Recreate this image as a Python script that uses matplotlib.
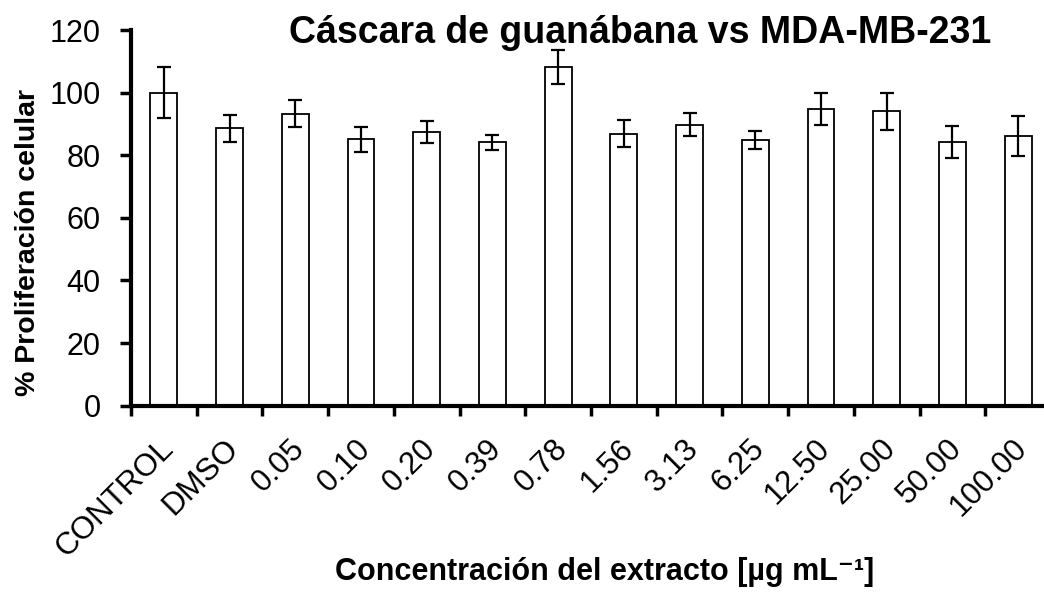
import matplotlib.pyplot as plt
import numpy as np

plt.rcParams['font.family'] = ['Liberation Sans', 'DejaVu Sans']

categories = ['CONTROL', 'DMSO', '0.05', '0.10', '0.20', '0.39', '0.78',
              '1.56', '3.13', '6.25', '12.50', '25.00', '50.00', '100.00']
proliferation = [100.0, 88.6, 93.3, 85.2, 87.5, 84.2, 108.3,
                 86.9, 89.8, 84.9, 94.9, 94.0, 84.2, 86.2]
error = [8.2, 4.2, 4.4, 4.0, 3.6, 2.4, 5.5,
         4.4, 3.6, 2.8, 5.1, 6.0, 5.2, 6.5]

fig = plt.figure(figsize=(10.44, 6.01), dpi=100)
ax = fig.add_axes([131 / 1044, 195.3 / 601, 920 / 1044, 375.6 / 601])

x = np.arange(len(categories))
ax.bar(x, proliferation, width=0.41, color='white', edgecolor='black', linewidth=1.3,
       yerr=error, error_kw=dict(ecolor='black', elinewidth=1.6, capsize=5, capthick=1.6))

ax.set_xlim(-0.5, len(categories) - 0.5)
ax.set_ylim(0, 120)
ax.set_yticks(range(0, 121, 20))
ax.set_yticklabels([str(v) for v in range(0, 121, 20)], fontsize=22)

# ticks at the category boundaries; labels on invisible minor ticks,
# nudged a little left of the bar centres like the original
ax.set_xticks(np.arange(len(categories)) - 0.5, minor=False)
ax.set_xticklabels([])
ax.set_xticks(x - 0.09, minor=True)
ax.set_xticklabels(categories, minor=True, rotation=45, ha='right', rotation_mode='anchor',
                   fontsize=22.5)
ax.tick_params(axis='x', which='minor', length=0, pad=20)
ax.tick_params(axis='x', which='major', direction='out', length=7, width=2.5)
ax.tick_params(axis='y', direction='out', length=8, width=2.5, pad=14)

for s in ['top', 'right']:
    ax.spines[s].set_visible(False)
for s in ['left', 'bottom']:
    ax.spines[s].set_linewidth(3)

fig.text(28 / 1044, 1 - 242 / 601, '% Proliferación celular', rotation=90,
         ha='center', va='center', fontsize=20.5, fontweight='bold')
fig.text(605 / 1044, 1 - 572 / 601, 'Concentración del extracto [µg mL⁻¹]',
         ha='center', va='center', fontsize=22, fontweight='bold')
fig.text(640 / 1044, 1 - 33 / 601, 'Cáscara de guanábana vs MDA-MB-231',
         ha='center', va='center', fontsize=27, fontweight='bold')

fig.savefig('out.png', dpi=100)
